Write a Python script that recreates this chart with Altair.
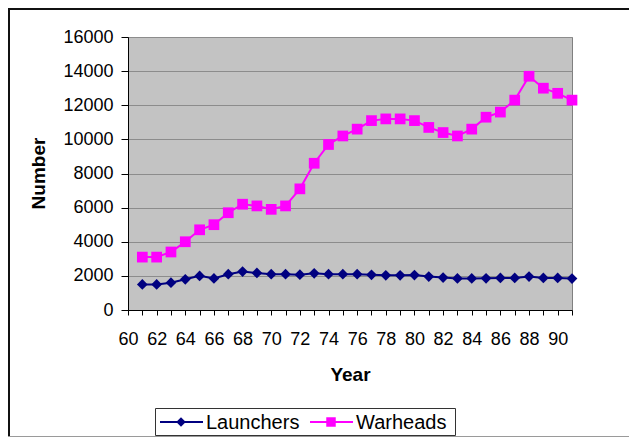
import altair as alt
import pandas as pd

years = list(range(61, 92))
launchers = [1500, 1500, 1600, 1800, 2000, 1850, 2100, 2250, 2170, 2100, 2100,
             2070, 2150, 2100, 2100, 2100, 2060, 2030, 2030, 2050, 1960, 1900,
             1850, 1850, 1860, 1880, 1880, 1960, 1880, 1880, 1840]
warheads = [3100, 3100, 3400, 4000, 4700, 5000, 5700, 6200, 6100, 5900, 6100,
            7100, 8600, 9700, 10200, 10600, 11100, 11200, 11200, 11100, 10700,
            10400, 10200, 10600, 11300, 11600, 12300, 13700, 13000, 12700, 12300]
series_names = ["Launchers", "Warheads"]
series_colors = ["#000080", "#FF00FF"]
series_shapes = ["diamond", "square"]
x_ticks = list(range(60, 92))
y_ticks = list(range(0, 16001, 2000))

df = pd.DataFrame({
    "Year": years + years,
    "Number": launchers + warheads,
    "Series": [series_names[0]] * len(years) + [series_names[1]] * len(years),
})

FONT = "Liberation Sans"
W, H = 444, 273

x = alt.X("Year:Q",
          scale=alt.Scale(domain=[60, 91], nice=False, zero=False),
          axis=alt.Axis(values=x_ticks,
                        labelExpr="datum.value % 2 == 0 ? datum.label : ''",
                        labelOverlap=False, labelFlush=False, grid=False,
                        tickSize=5, labelPadding=15, labelFontSize=18,
                        title="Year", titleFontSize=19, titleFontWeight="bold",
                        titleX=222, titleY=64, titleBaseline="middle"))
y = alt.Y("Number:Q",
          scale=alt.Scale(domain=[0, 16000], nice=False),
          axis=alt.Axis(values=y_ticks, format="d", tickSize=7, labelPadding=8,
                        labelFontSize=18, gridColor="#8c8c8c", gridWidth=1,
                        title="Number", titleFontSize=19, titleFontWeight="bold",
                        titleAngle=270, titleX=-90, titleY=136,
                        titleBaseline="middle"))
color = alt.Color("Series:N",
                  scale=alt.Scale(domain=series_names, range=series_colors),
                  legend=None)
shape = alt.Shape("Series:N",
                  scale=alt.Scale(domain=series_names, range=series_shapes),
                  legend=None)

one = pd.DataFrame({"a": [0]})

frame_top = alt.Chart(one).mark_rule(color="#111111", strokeWidth=2).encode(
    x=alt.value(-120), x2=alt.value(501), y=alt.value(-28))
frame_left = alt.Chart(one).mark_rule(color="#111111", strokeWidth=2).encode(
    x=alt.value(-119), y=alt.value(-29), y2=alt.value(400))
frame_bottom = alt.Chart(one).mark_rule(color="#9a9a9a", strokeWidth=1).encode(
    x=alt.value(-120), x2=alt.value(501), y=alt.value(399.5))

lines = alt.Chart(df).mark_line(strokeWidth=2).encode(x=x, y=y, color=color)
points = alt.Chart(df).mark_point(filled=True, size=115, opacity=1).encode(
    x=x, y=y, color=color, shape=shape)

legend_layers = [
    alt.Chart(one).mark_rect(fillOpacity=0, stroke="#333333", strokeWidth=1).encode(
        x=alt.value(27.5), x2=alt.value(327.5), y=alt.value(371.5), y2=alt.value(398.5))
]
for i, (name, col, shp) in enumerate(zip(series_names, series_colors, series_shapes)):
    off = 150 * i
    legend_layers.append(
        alt.Chart(one).mark_rule(color=col, strokeWidth=2).encode(
            x=alt.value(32 + off), x2=alt.value(75 + off), y=alt.value(385)))
    legend_layers.append(
        alt.Chart(one).mark_point(shape=shp, color=col, filled=True, size=90, opacity=1).encode(
            x=alt.value(53 + off), y=alt.value(385)))
    legend_layers.append(
        alt.Chart(one).mark_text(text=name, align="left", baseline="middle",
                                 fontSize=20, font=FONT, color="black").encode(
            x=alt.value(78 + off), y=alt.value(386)))

chart = alt.layer(frame_top, frame_left, frame_bottom, lines, points, *legend_layers).properties(
    width=W, height=H,
    autosize=alt.AutoSizeParams(type="none"),
    padding={"left": 120, "top": 29, "right": 57, "bottom": 127},
    background="white",
).configure_view(
    fill="#c3c3c3", stroke="#808080", strokeWidth=1
).configure_axis(
    labelFont=FONT, titleFont=FONT, domainColor="black", tickColor="black",
    labelColor="black", titleColor="black", domainWidth=1
)

chart.save("out.html", embed_options={"renderer": "svg", "actions": False})
